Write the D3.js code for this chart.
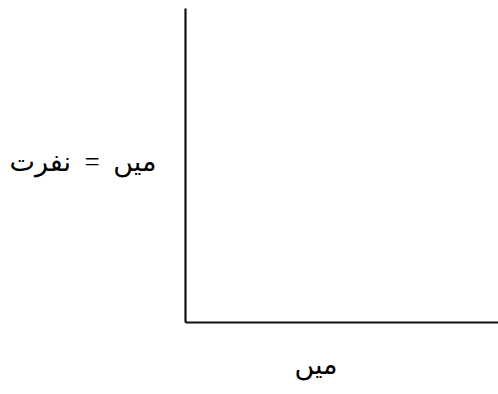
<!DOCTYPE html>
<html>
<head>
<meta charset="utf-8">
<script src="https://cdn.jsdelivr.net/npm/d3@7"></script>
<style>
  html, body { margin: 0; padding: 0; background: #fff; }
  svg { display: block; }
  .axis path { stroke: #111; stroke-width: 2.2; }
  .lbl { font-family: "Times New Roman", "Liberation Serif", "DejaVu Sans", serif; fill: #000; white-space: pre; }
</style>
</head>
<body>
<svg id="chart" width="498" height="394"></svg>
<script>
// Axis labels (Urdu) and tick values — the plot has no ticks and no series
const xLabel = ["میں"];
const yLabel = ["میں  =  نفرت"];
const xTicks = [];
const yTicks = [];
const xDomain = [0, 1];
const yDomain = [0, 1];

const width = 498, height = 394;
const margin = { top: 8, right: 0, bottom: 72, left: 185 };

const svg = d3.select("#chart");

const x = d3.scaleLinear().domain(xDomain).range([margin.left, width - margin.right]);
const y = d3.scaleLinear().domain(yDomain).range([height - margin.bottom, margin.top]);

svg.append("g")
  .attr("class", "axis")
  .attr("transform", `translate(0,${height - margin.bottom})`)
  .call(d3.axisBottom(x).tickValues(xTicks).tickSizeOuter(0));

svg.append("g")
  .attr("class", "axis")
  .attr("transform", `translate(${margin.left},0)`)
  .call(d3.axisLeft(y).tickValues(yTicks).tickSizeOuter(0));

// Y-axis title, set to the left of the axis
svg.selectAll(".ylab").data(yLabel).enter().append("text")
  .attr("class", "lbl")
  .attr("x", 83)
  .attr("y", 171)
  .attr("text-anchor", "middle")
  .attr("direction", "rtl")
  .attr("font-size", 27)
  .text(d => d);

// X-axis title, below the axis
svg.selectAll(".xlab").data(xLabel).enter().append("text")
  .attr("class", "lbl")
  .attr("x", 316)
  .attr("y", 374)
  .attr("text-anchor", "middle")
  .attr("direction", "rtl")
  .attr("font-size", 27)
  .text(d => d);
</script>
</body>
</html>
